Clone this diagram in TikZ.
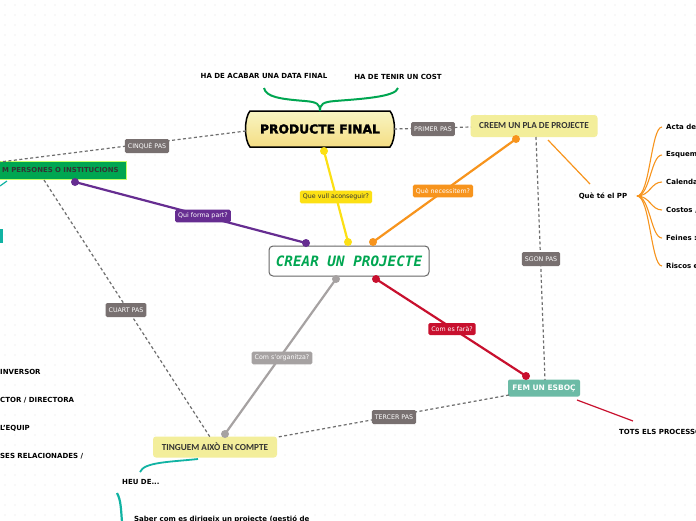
\documentclass[tikz,border=0pt]{standalone}
\usepackage{fontspec}
\setmainfont{DejaVu Sans}
\newfontfamily\carl{Carlito}
\newfontfamily\dmono{DejaVu Sans Mono}
\newfontfamily\heavy[FakeBold=2.2]{DejaVu Sans Bold}
\definecolor{dotc}{HTML}{E4E4E4}
\definecolor{cyel}{HTML}{FCE014}
\definecolor{corg}{HTML}{F7941D}
\definecolor{cpur}{HTML}{662D91}
\definecolor{cred}{HTML}{C8102E}
\definecolor{cgry}{HTML}{A6A2A2}
\definecolor{cstep}{HTML}{787070}
\definecolor{cdash}{HTML}{6E6E6E}
\definecolor{cpale}{HTML}{F3EE9B}
\definecolor{cteal}{HTML}{6CBBA6}
\definecolor{cturq}{HTML}{11B3A3}
\definecolor{cgreen}{HTML}{00A651}
\definecolor{cbrace}{HTML}{00A651}
\definecolor{ctext}{HTML}{333333}
\definecolor{ccrear}{HTML}{00A651}
\tikzset{
  conn/.style={line width=2.2pt},
  dashconn/.style={draw=cdash, line width=1.2pt, dash pattern=on 3pt off 2.5pt},
  elabel/.style={rounded corners=1.5pt, inner xsep=3pt, minimum height=12pt, text=white,
    font=\fontsize{6.3}{7}\selectfont},
  steplabel/.style={elabel, fill=cstep, minimum height=14pt},
  palebox/.style={rounded corners=3pt, fill=cpale, text=ctext, font=\carl\bfseries\fontsize{9.2}{10}\selectfont},
  btext/.style={font=\bfseries\fontsize{7}{8}\selectfont, text=black, inner sep=0pt},
  enddot/.style={circle, inner sep=0pt, minimum size=7pt}
}
\begin{document}
\begin{tikzpicture}[x=1pt,y=-1pt]
\useasboundingbox (0,0) rectangle (696,520);
\fill[white] (0,0) rectangle (696,520);
\foreach \i in {0,...,69} {\foreach \j in {0,...,51} {\fill[dotc] (\i*10+5,\j*10+5) circle (0.7pt);}}

% ---------- main nodes ----------
\shade[top color=cpale!60!white, bottom color=cpale!85!orange, draw=black, line width=1.5pt]
  (250,111) -- (390,111) .. controls (396,118) and (396,140) .. (390,147) -- (250,147)
  .. controls (244,140) and (244,118) .. (250,111) -- cycle;
\node[font=\heavy\fontsize{12.3}{13}\selectfont, text=black] (pf) at (320,129) {PRODUCTE FINAL};

\node[draw=gray!80!black, line width=1pt, rounded corners=4pt, fill=white, minimum width=160pt, minimum height=30pt,
  font=\dmono\bfseries\itshape\fontsize{14.3}{15}\selectfont, text=ccrear] (crear) at (349,261) {CREAR UN PROJECTE};

\node[palebox, minimum width=127pt, minimum height=22pt] (pla) at (534,126) {CREEM UN PLA DE PROJECTE};
\node[palebox, minimum width=124pt, minimum height=21pt] (ting) at (215,447) {TINGUEM AIXÒ EN COMPTE};
\node[rounded corners=2pt, fill=cteal, text=white, minimum width=72pt, minimum height=17pt,
  font=\bfseries\fontsize{7.5}{8}\selectfont] (esb) at (544,388) {FEM UN ESBOÇ};
\node[anchor=east, fill=cgreen, draw=green!40!yellow!60!white, line width=0.8pt, minimum height=18pt, inner xsep=8pt,
  text=ctext, font=\bfseries\fontsize{6.9}{7}\selectfont] (pers) at (127,170) {M PERSONES O INSTITUCIONS};

% ---------- brace labels ----------
\node[btext] (hdata) at (264,76) {HA DE ACABAR UNA DATA FINAL};
\node[btext] (hcost) at (398,77) {HA DE TENIR UN COST};
\coordinate (brL) at (264,88);
\coordinate (brR) at (398,88);
\coordinate (brM) at (320,111);
\draw[cbrace, line width=2pt] (brL) .. controls (266,97) and (280,99) .. (305,101)
  .. controls (317,102) and (320,104) .. (brM);
\draw[cbrace, line width=2pt] (brR) .. controls (396,97) and (360,99) .. (335,101)
  .. controls (323,102) and (320,104) .. (brM);

% ---------- dashed step connectors ----------
\coordinate (pfW) at (246,131);
\coordinate (pfE) at (394,129);
\coordinate (plaW) at (471,127);
\coordinate (plaS) at (536,137);
\coordinate (esbN) at (545,380);
\coordinate (esbW) at (509,395);
\coordinate (tingE) at (278,437);
\coordinate (tingN) at (210,437);
\coordinate (persN) at (0,162);
\coordinate (persS) at (44,180);
\draw[dashconn] (pfE) -- (plaW);
\node[steplabel] (l1) at (433,129) {PRIMER PAS};
\draw[dashconn] (plaS) -- (esbN);
\node[steplabel] (l2) at (541,259) {SGON PAS};
\draw[dashconn] (esbW) -- (tingE);
\node[steplabel] (l3) at (394,417) {TERCER PAS};
\draw[dashconn] (persS) -- (tingN);
\node[steplabel] (l4) at (126,310) {CUART PAS};
\draw[dashconn] (pfW) -- (persN);
\node[steplabel] (l5) at (147,146) {CINQUÈ PAS};

% ---------- coloured connectors ----------
\coordinate (yA) at (324,151); \coordinate (yB) at (348,242);
\coordinate (oA) at (373,242); \coordinate (oB) at (516,139);
\coordinate (pA) at (306,243); \coordinate (pB) at (75,182);
\coordinate (rA) at (376,279); \coordinate (rB) at (526,376);
\coordinate (gA) at (336,279); \coordinate (gB) at (225,434);

\draw[conn, cyel] (yA) -- (yB);
\draw[conn, corg] (oA) -- (oB);
\draw[conn, cpur] (pA) -- (pB);
\draw[conn, cred] (rA) -- (rB);
\draw[conn, cgry] (gA) -- (gB);
\foreach \c/\col in {yA/cyel,yB/cyel,oA/corg,oB/corg,pA/cpur,pB/cpur,rA/cred,rB/cred,gA/cgry,gB/cgry}
  {\fill[\col] (\c) circle (4pt);}

\node[elabel, fill=cyel, text=ctext] (ly) at (336,197) {Que vull aconseguir?};
\node[elabel, fill=corg] (lo) at (443,191) {Què necessitem?};
\node[elabel, fill=cpur] (lp) at (203,216) {Qui forma part?};
\node[elabel, fill=cred] (lr) at (452,329) {Com es farà?};
\node[elabel, fill=cgry] (lg) at (282,358) {Com s'organitza?};

% ---------- Què té el PP ----------
\node[btext] (qpp) at (603,196) {Què té el PP};
\coordinate (plaSE) at (548,140);
\coordinate (qppN) at (590,184);
\draw[corg, line width=1.2pt] (plaSE) -- (qppN);
\coordinate (fan) at (637,196);
\foreach \y/\t/\n in {127/Acta de/b1, 155/Esquem/b2, 182/Calenda/b3, 210/{Costos ,}/b4, 238/{Feines :}/b5, 266/{Riscos e}/b6} {
  \node[btext, anchor=west] (\n) at (666,\y) {\t};
  \draw[corg, line width=1.1pt] (fan) .. controls (650,196) and (651,\y) .. (662,\y);
}

% ---------- FEM UN ESBOÇ child ----------
\coordinate (esbSE) at (577,400);
\coordinate (totsN) at (633,421);
\draw[cred, line width=1.2pt] (esbSE) -- (totsN);
\node[btext, anchor=west] (tots) at (619,432) {TOTS ELS PROCESSOS};

% ---------- TINGUEM children ----------
\coordinate (tingS) at (198,459);
\coordinate (heuN) at (140,472);
\draw[cturq, line width=1.8pt] (tingS) .. controls (170,462) and (144,462) .. (heuN);
\node[btext, anchor=west] (heu) at (122,482) {HEU DE...};
\coordinate (heuS) at (117,493);
\coordinate (sabW) at (122,522);
\draw[cturq, line width=2.2pt] (heuS) .. controls (121,500) and (121,510) .. (sabW);
\node[btext, anchor=west] (sab) at (134,519) {Saber com es dirigeix un projecte (gestió de};

% ---------- left side ----------
\coordinate (persSW) at (7,181);
\coordinate (tealL) at (0,186);
\draw[cturq, line width=1.2pt] (persSW) -- (tealL);
\fill[cturq] (-5,229) rectangle (3,243);
\foreach \y/\t/\n in {372/INVERSOR/c1, 400/{CTOR / DIRECTORA}/c2, 428/{L'EQUIP}/c3, 456/{SES RELACIONADES /}/c4}
  {\node[btext, anchor=west] (\n) at (0,\y) {\t};}
\end{tikzpicture}
\end{document}
